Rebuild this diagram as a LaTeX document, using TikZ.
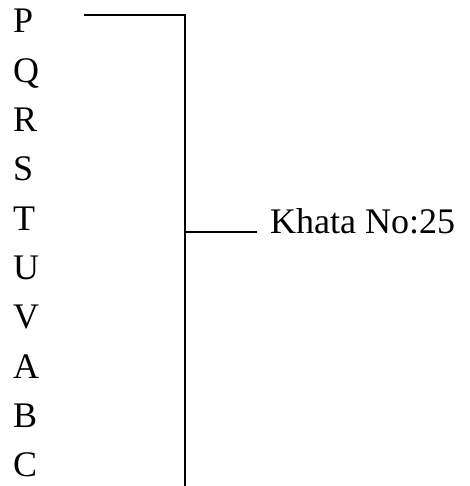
\documentclass[tikz,border=0pt]{standalone}
\usepackage{fontspec}
\setmainfont{Liberation Serif}
\begin{document}
\begin{tikzpicture}[x=1pt,y=1pt,
  lbl/.style={anchor=base west,inner sep=0pt,font=\fontsize{36}{36}\selectfont},
  conn/.style={line width=1.5pt}]
\useasboundingbox (0,0) rectangle (469,-486);
\foreach \t [count=\i from 0] in {P,Q,R,S,T,U,V,A,B,C}{
  \node[lbl] (L\i) at (13,{-33-49.3*\i}) {\t};
}
\node[lbl] (K) at (270,-233) {Khata No:25};
\coordinate (s) at (84,-15);
\coordinate (c) at (185,-15);
\coordinate (b) at (185,-487);
\coordinate (j) at (185,-232);
\coordinate (e) at (257,-232);
\draw[conn] (s) -- (c) -- (b);
\draw[conn] (j) -- (e);
\end{tikzpicture}
\end{document}
